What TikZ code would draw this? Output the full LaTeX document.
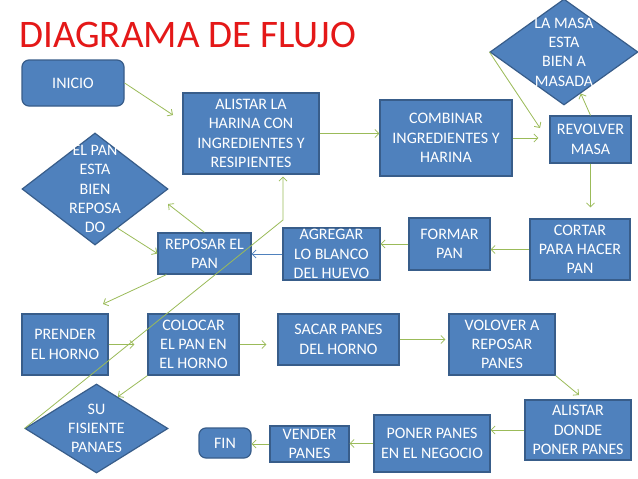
\documentclass[tikz,border=0pt]{standalone}
\usepackage{fontspec}
\setmainfont{Carlito}
\usetikzlibrary{shapes.geometric,arrows.meta}
\definecolor{azul}{RGB}{79,129,189}
\definecolor{bordeazul}{RGB}{56,93,138}
\definecolor{verde}{RGB}{155,187,89}
\definecolor{rojo}{RGB}{228,24,24}

\begin{document}
\begin{tikzpicture}[x=1pt,y=-1pt,
  caja/.style={draw=bordeazul, fill=azul, line width=1.2pt, text=white, align=center, inner sep=0pt, font=\fontsize{16}{19.3}\selectfont},
  redonda/.style={caja, rounded corners=7pt},
  rombo/.style={draw=bordeazul, fill=azul, line width=1.2pt, diamond, inner sep=0pt},
  texto/.style={text=white, align=center, inner sep=0pt, font=\fontsize{16}{19.3}\selectfont},
  flecha/.style={draw=verde, line width=0.8pt, -{Straight Barb[length=4pt,width=8pt]}},
]

\useasboundingbox[fill=white] (0,0) rectangle (638,479);

% Titulo
\node[anchor=base west, inner sep=0pt, text=rojo, font=\fontsize{39}{44}\selectfont] (titulo) at (19,47) {DIAGRAMA DE FLUJO};

% Cajas
\node[redonda, minimum width=102pt, minimum height=46pt] (inicio) at (73,83) {INICIO};
\node[caja, minimum width=136pt, minimum height=81pt] (alistar) at (251,133.5) {ALISTAR LA\\HARINA CON\\INGREDIENTES Y\\RESIPIENTES};
\node[caja, minimum width=132pt, minimum height=76pt] (combinar) at (446,138) {COMBINAR\\INGREDIENTES Y\\HARINA};
\node[caja, minimum width=81pt, minimum height=47pt] (revolver) at (590.5,139.5) {REVOLVER\\MASA};
\node[caja, minimum width=100pt, minimum height=61pt] (cortar) at (580,249.5) {CORTAR\\PARA HACER\\PAN};
\node[caja, minimum width=81pt, minimum height=52pt] (formar) at (449.5,244) {FORMAR\\PAN};
\node[caja, minimum width=97pt, minimum height=52pt] (agregar) at (331.5,254) {AGREGAR\\LO BLANCO\\DEL HUEVO};
\node[caja, minimum width=93pt, minimum height=41pt] (reposar) at (204.5,253.5) {REPOSAR EL\\PAN};
\node[caja, minimum width=86pt, minimum height=61pt] (prender) at (65,344.5) {PRENDER\\EL HORNO};
\node[caja, minimum width=91pt, minimum height=61pt] (colocar) at (193.5,344.5) {COLOCAR\\EL PAN EN\\EL HORNO};
\node[caja, minimum width=121pt, minimum height=51pt] (sacar) at (338.5,339.5) {SACAR PANES\\DEL HORNO};
\node[caja, minimum width=106pt, minimum height=61pt] (volover) at (502,344.5) {VOLOVER A\\REPOSAR\\PANES};
\node[caja, minimum width=106pt, minimum height=60pt] (donde) at (578,430) {ALISTAR\\DONDE\\PONER PANES};
\node[caja, minimum width=116pt, minimum height=57pt] (poner) at (432,443.5) {PONER PANES\\EN EL NEGOCIO};
\node[caja, minimum width=79pt, minimum height=36pt] (vender) at (309.5,444) {VENDER\\PANES};
\node[redonda, minimum width=52pt, minimum height=30pt] (fin) at (225,443) {FIN};

% Rombos
\node[rombo, minimum width=148pt, minimum height=106pt] (masa) at (564,52) {};
\node[texto] (masa-t) at (masa) {LA MASA\\ESTA\\BIEN A\\MASADA};
\node[rombo, minimum width=146pt, minimum height=112pt] (reposado) at (95,189) {};
\node[texto] (reposado-t) at (reposado) {EL PAN\\ESTA\\BIEN\\REPOSA\\DO};
\node[rombo, minimum width=143pt, minimum height=89pt] (fisiente) at (96.5,428.5) {};
\node[texto] (fisiente-t) at (fisiente) {SU\\FISIENTE\\PANAES};

% Puntos sueltos
\coordinate (p-inicio) at (173,115);
\coordinate (p-masa) at (540,128);
\coordinate (p-reposar) at (168,204);
\coordinate (p-codo) at (283,220);
\coordinate (p-prender) at (103,304);
\coordinate (p-volover) at (579,395);

% Flechas
\draw[flecha] (inicio.east) -- (p-inicio);
\draw[flecha] (alistar.east) -- (alistar.east -| combinar.west);
\draw[flecha, shorten >=11pt] (combinar.east) -- (combinar.east -| revolver.west);
\draw[flecha] (masa.west) -- (p-masa);
\draw[flecha] (revolver.north) -- (masa.-68);
\draw[flecha, shorten >=11pt] (revolver.south) -- (revolver.south |- cortar.north);
\draw[flecha] (cortar.west) -- (cortar.west -| formar.east);
\draw[flecha] (formar.west) -- (formar.west -| agregar.east);
\draw[flecha, draw=azul] (agregar.west) -- (agregar.west -| reposar.east);
\draw[flecha] (reposar.north) -- (p-reposar);
\draw[flecha] (reposado.-60) -- (reposar.west);
\draw[flecha, shorten >=2pt] (fisiente.west) -- (p-codo) -- (p-codo |- alistar.south);
\draw[flecha] ([xshift=9pt]reposar.south west) -- (p-prender);
\draw[flecha, shorten >=13pt] (prender.east) -- (prender.east -| colocar.west);
\draw[flecha, shorten >=11pt] (colocar.east) -- (colocar.east -| sacar.west);
\draw[flecha] (colocar.south west) -- (fisiente.56);
\draw[flecha, shorten >=3pt] (sacar.east) -- (sacar.east -| volover.west);
\draw[flecha] (volover.south east) -- (p-volover);
\draw[flecha] (donde.west) -- (donde.west -| poner.east);
\draw[flecha] (poner.west) -- (poner.west -| vender.east);
\draw[flecha] (vender.west) -- (vender.west -| fin.east);

\end{tikzpicture}
\end{document}
